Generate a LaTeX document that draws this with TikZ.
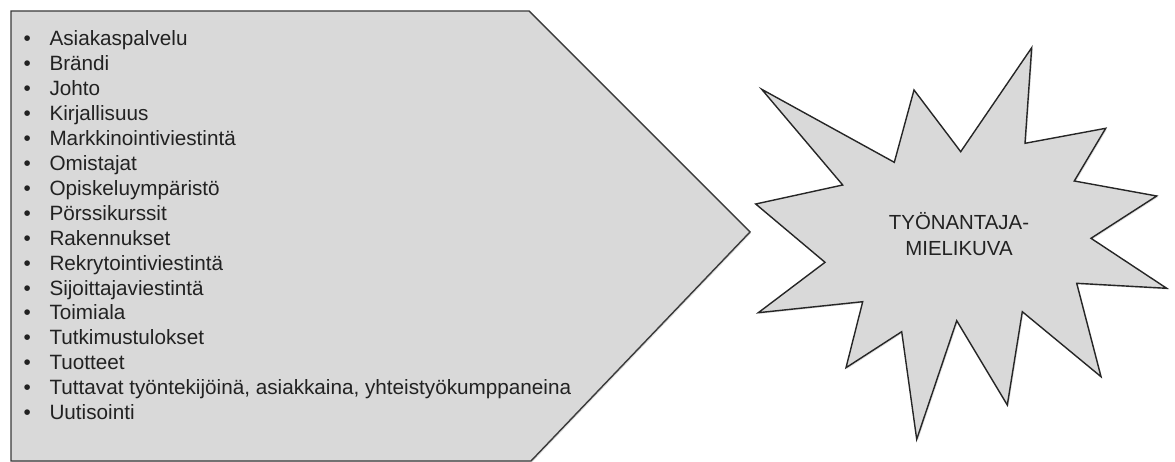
\documentclass[tikz,border=0pt]{standalone}
\usepackage{fontspec}
\setmainfont{Liberation Sans}
\usetikzlibrary{shadows}
\definecolor{shapefill}{HTML}{D9D9D9}
\definecolor{shapeline}{HTML}{3A3A3A}
\definecolor{txt}{HTML}{222222}
\tikzset{
  panel/.style={fill=shapefill, draw=shapeline, line width=1.4pt, line join=miter,
    drop shadow={opacity=0.25, shadow xshift=1.2pt, shadow yshift=-1.2pt}},
  burst/.style={fill=shapefill, draw=black!85, line width=1.4pt, line join=miter,
    drop shadow={opacity=0.25, shadow xshift=1.2pt, shadow yshift=-1.2pt}},
  itemtext/.style={anchor=base west, inner sep=0pt, text=txt, font=\fontsize{20.7}{24}\selectfont},
  bulletmark/.style={anchor=base, inner sep=0pt, text=txt, font=\fontsize{20.7}{24}\selectfont},
  bursttext/.style={align=center, inner sep=0pt, text=txt, font=\fontsize{20.4}{26.7}\selectfont}
}
\begin{document}
\begin{tikzpicture}[x=1pt, y=-1pt]
\useasboundingbox (0,0) rectangle (1175,462);
% pentagon arrow
\coordinate (p1) at (11,11);
\coordinate (p2) at (529,11);
\coordinate (p3) at (750,232);
\coordinate (p4) at (531,461);
\coordinate (p5) at (11,461);
\path[panel] (p1) -- (p2) -- (p3) -- (p4) -- (p5) -- cycle;
% items
\foreach \t [count=\i from 0] in {Asiakaspalvelu, Brändi, Johto, Kirjallisuus, Markkinointiviestintä, Omistajat, Opiskeluympäristö, Pörssikurssit, Rakennukset, Rekrytointiviestintä, Sijoittajaviestintä, Toimiala, Tutkimustulokset, Tuotteet, {Tuttavat työntekijöinä, asiakkaina, yhteistyökumppaneina}, Uutisointi}{
  \node[bulletmark] (bullet\i) at (27.3, 46+24.9*\i) {•};
  \node[itemtext] (item\i) at (49.3, 46+24.9*\i) {\t};
}
% starburst
\coordinate (s1) at (761.7,89.3);
\coordinate (s2) at (894.3,162.3);
\coordinate (s3) at (914,90);
\coordinate (s4) at (960.7,151.7);
\coordinate (s5) at (1031.7,47.7);
\coordinate (s6) at (1025,143.3);
\coordinate (s7) at (1105.7,128.3);
\coordinate (s8) at (1074.3,181);
\coordinate (s9) at (1156.7,196);
\coordinate (s10) at (1091,238.3);
\coordinate (s11) at (1166.7,288.3);
\coordinate (s12) at (1076.7,283.3);
\coordinate (s13) at (1101,376.7);
\coordinate (s14) at (1022.3,311.7);
\coordinate (s15) at (1007.3,405);
\coordinate (s16) at (956.7,320.7);
\coordinate (s17) at (916.7,439.3);
\coordinate (s18) at (901.7,331.7);
\coordinate (s19) at (846,367.7);
\coordinate (s20) at (862.7,301.7);
\coordinate (s21) at (758.3,312.7);
\coordinate (s22) at (825,262.3);
\coordinate (s23) at (755.7,204);
\coordinate (s24) at (842.7,185);
\path[burst] (s1) -- (s2) -- (s3) -- (s4) -- (s5) -- (s6) -- (s7) -- (s8) -- (s9) -- (s10) -- (s11) -- (s12) -- (s13) -- (s14) -- (s15) -- (s16) -- (s17) -- (s18) -- (s19) -- (s20) -- (s21) -- (s22) -- (s23) -- (s24) -- cycle;
\node[bursttext] (label) at (959,234) {TYÖNANTAJA-\\MIELIKUVA};
\end{tikzpicture}
\end{document}
